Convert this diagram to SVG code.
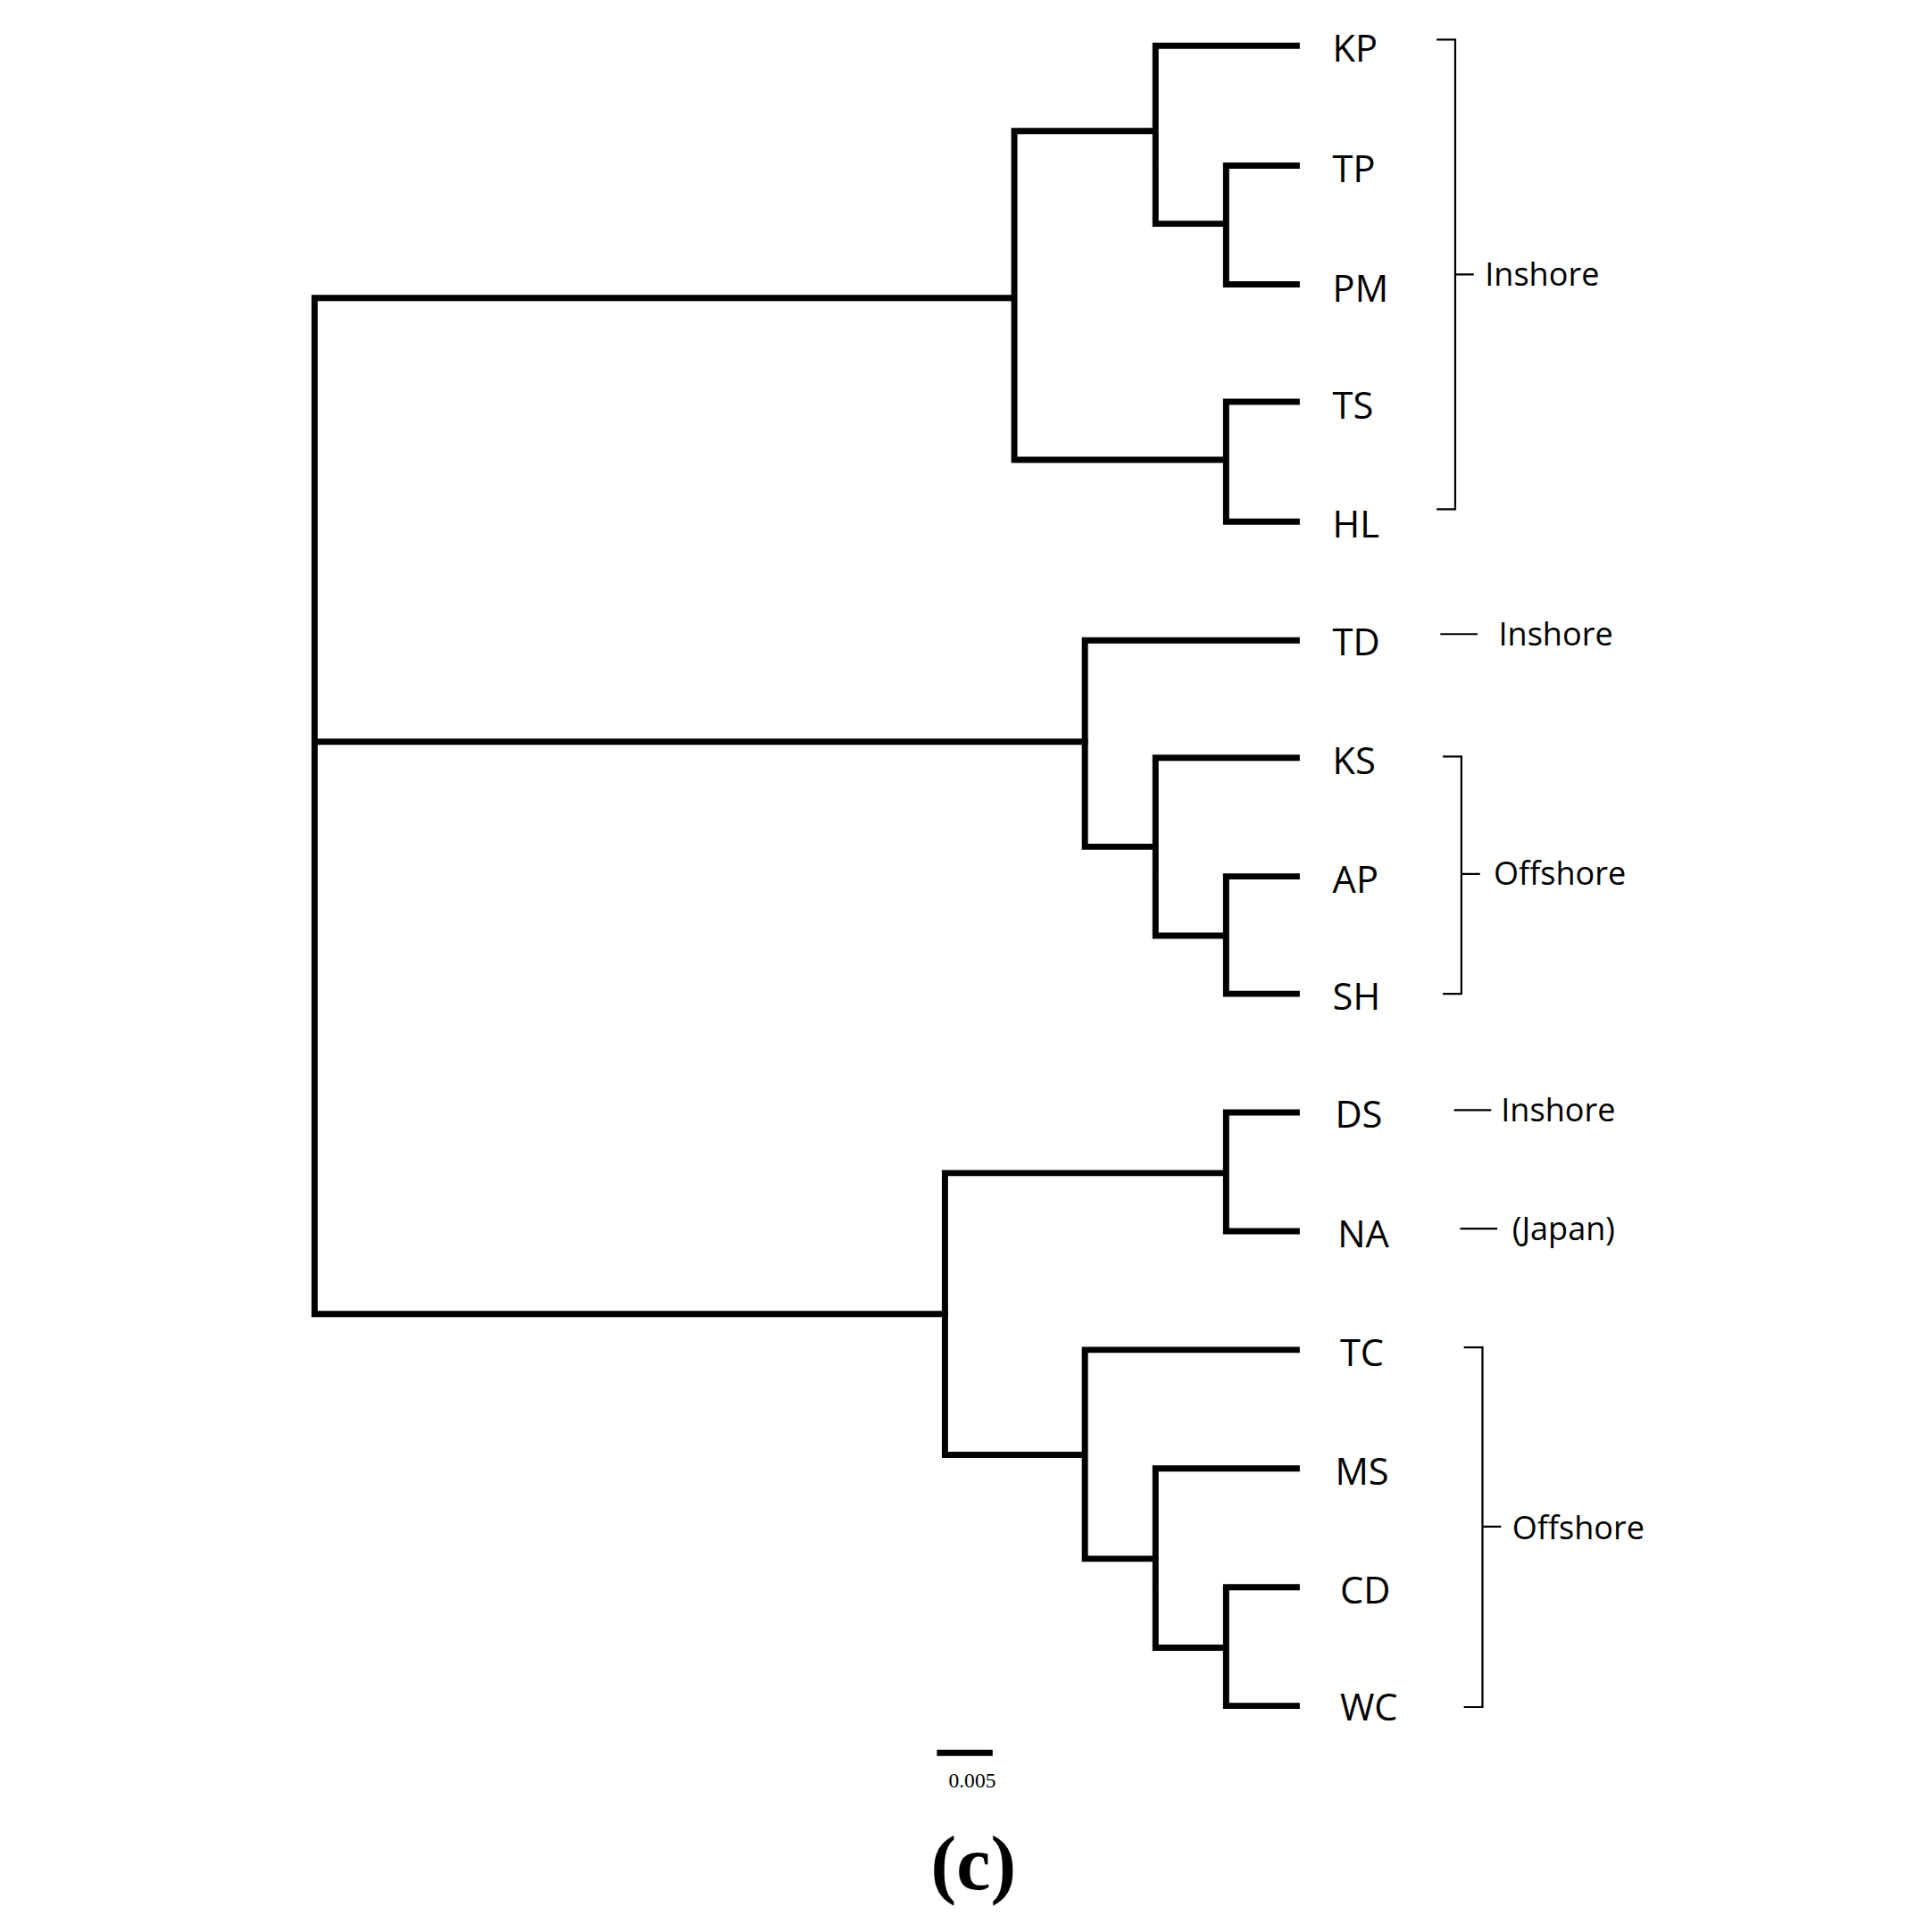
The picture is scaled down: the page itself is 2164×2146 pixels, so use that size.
<svg xmlns="http://www.w3.org/2000/svg" width="2164" height="2146" viewBox="0 0 2164 2146">
<style>
.b{fill:none;stroke:#000;stroke-width:5;stroke-linecap:square}
.k{fill:none;stroke:#000;stroke-width:1.6}
.l{font-family:"Open Sans","Liberation Sans",sans-serif;font-size:30px;fill:#000}
.g{font-family:"Open Sans","Liberation Sans",sans-serif;font-size:26px;fill:#000}
</style>
<rect width="2164" height="2146" fill="#fff"/>
<g transform="scale(1.3872,1.3845)">
<g id="connectors">
<path class="b" d="M1047,37H933V181H990M933,106H819V372H990M990,134H1047M990,134V230H1047M990,325H1047V325M990,325V422H1047M819,241H254V1063H763M254,600H876"/>
<path class="b" d="M1047,518H876V685H933M933,613H1047M933,613V757H990M990,709H1047M990,709V804H1047"/>
<path class="b" d="M763,949H990M990,900H1047M990,900V996H1047M763,949V1177H876M876,1092H1047M876,1092V1261H933M933,1188H1047M933,1188V1333H990M990,1284H1047M990,1284V1380H1047"/>
<path class="b" d="M759,1418H799"/>
</g>
<g id="leaves">
<text class="l" x="1076" y="50">KP</text>
<text class="l" x="1076" y="147">TP</text>
<text class="l" x="1076" y="244">PM</text>
<text class="l" x="1076" y="339">TS</text>
<text class="l" x="1076" y="435">HL</text>
<text class="l" x="1076" y="530">TD</text>
<text class="l" x="1076" y="626">KS</text>
<text class="l" x="1076" y="722">AP</text>
<text class="l" x="1076" y="817">SH</text>
<text class="l" x="1078" y="912">DS</text>
<text class="l" x="1080" y="1009">NA</text>
<text class="l" x="1082" y="1105">TC</text>
<text class="l" x="1078" y="1201">MS</text>
<text class="l" x="1082" y="1297">CD</text>
<text class="l" x="1082" y="1392">WC</text>
</g>
<g id="groups">
<path class="k" d="M1160,32H1175V412H1160M1175,222H1190"/>
<text class="g" x="1199" y="231">Inshore</text>
<path class="k" d="M1163,513H1193"/>
<text class="g" x="1210" y="522">Inshore</text>
<path class="k" d="M1165,612H1180V804H1165M1180,707H1195"/>
<text class="g" x="1206" y="716">Offshore</text>
<path class="k" d="M1174,898H1204"/>
<text class="g" x="1212" y="907">Inshore</text>
<path class="k" d="M1179,994H1209"/>
<text class="g" x="1221" y="1003">(Japan)</text>
<path class="k" d="M1182,1090H1197V1381H1182M1197,1235H1212"/>
<text class="g" x="1221" y="1245">Offshore</text>
</g>
<text x="785" y="1446" text-anchor="middle" font-family="Liberation Serif,serif" font-size="17">0.005</text>
<text x="786" y="1528" text-anchor="middle" font-family="Liberation Serif,serif" font-weight="bold" font-size="62">(c)</text>
</g>
</svg>
